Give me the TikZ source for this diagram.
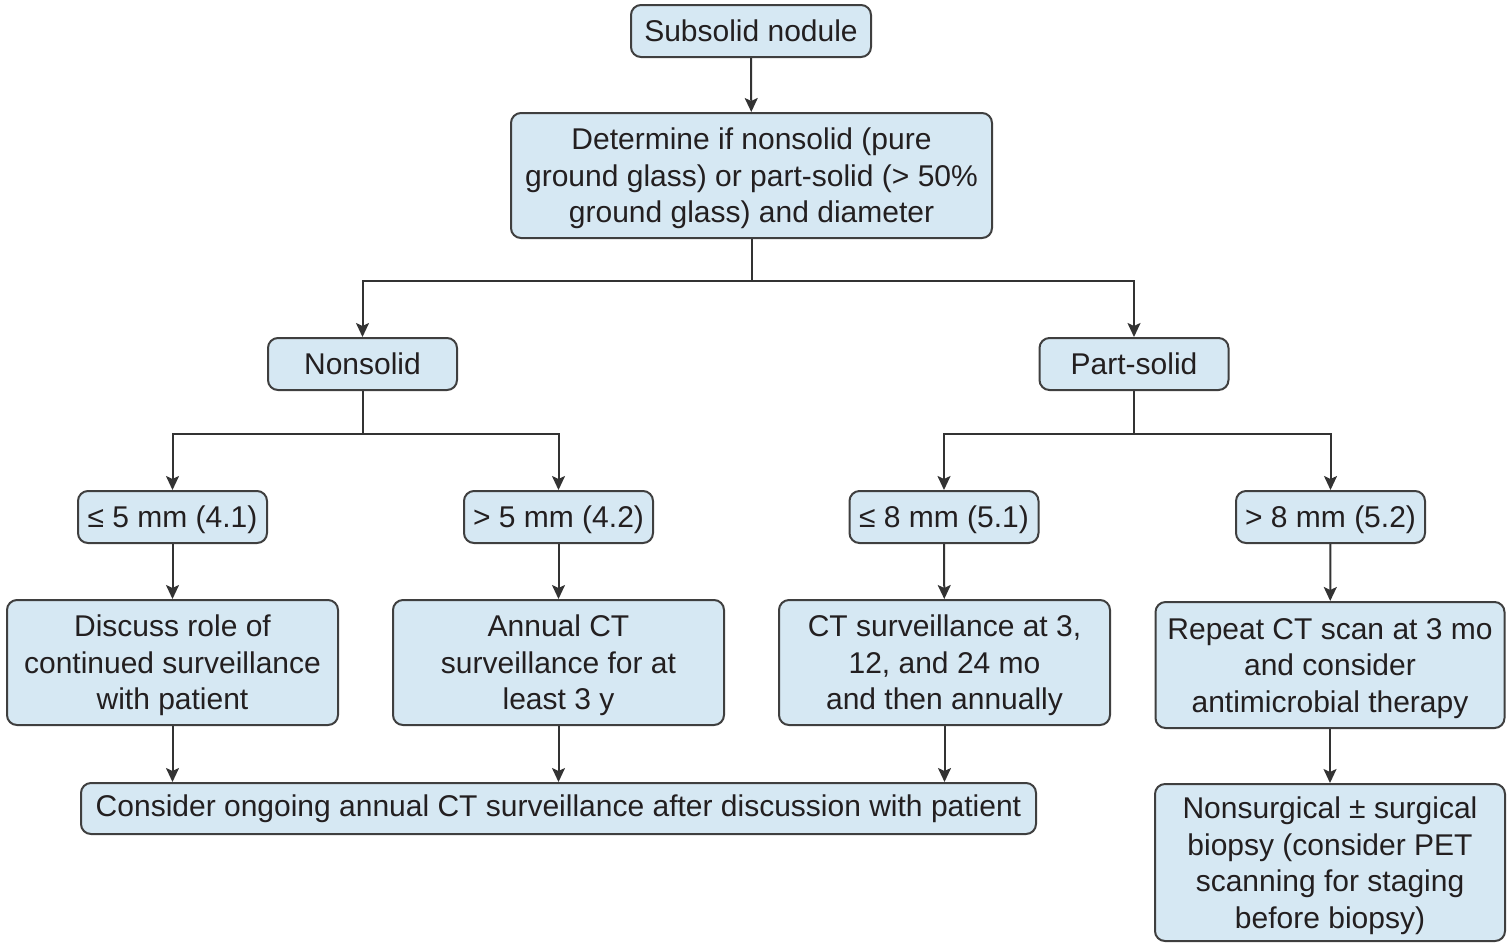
\documentclass[tikz,border=0pt]{standalone}
\usepackage{fontspec}
\setmainfont{Liberation Sans}
\usetikzlibrary{arrows.meta}
\definecolor{boxfill}{HTML}{D6E8F3}
\definecolor{boxline}{HTML}{3F3F3F}
\definecolor{wire}{HTML}{333333}
\definecolor{ink}{HTML}{231F20}
% extra headroom on the first line of a box
\newcommand\headroom{\rule{0pt}{13.9pt}}
\begin{document}
\begin{tikzpicture}[x=0.5pt,y=-0.5pt,
  box/.style={draw=boxline,line width=1pt,fill=boxfill,rounded corners=5pt,
    inner sep=0pt,align=center,text=ink,font=\fontsize{15}{18.25}\selectfont},
  arr/.style={draw=wire,line width=1pt,-{Stealth[length=7pt,width=6.5pt,inset=1.5pt]}},
  ln/.style={draw=wire,line width=1pt}]
\useasboundingbox (0,0) rectangle (1509,944);

% top of the tree
\node[box,minimum width=120pt,minimum height=26pt] (sub) at (751,31) {Subsolid nodule};
\node[box,minimum width=240.5pt,minimum height=62.5pt] (det) at (751.5,175.5)
  {\headroom Determine if nonsolid (pure\\ground glass) or part-solid (> 50\%\\ground glass) and diameter};

% first split
\node[box,minimum width=94.5pt,minimum height=26pt] (non) at (362.5,364) {Nonsolid};
\node[box,minimum width=94.5pt,minimum height=26pt] (part) at (1134,364) {Part-solid};

% size classes
\node[box,minimum width=94.5pt,minimum height=26pt] (a1) at (172.5,517) {\headroom ≤ 5 mm (4.1)};
\node[box,minimum width=94.5pt,minimum height=26pt] (a2) at (558.5,517) {\headroom > 5 mm (4.2)};
\node[box,minimum width=94.5pt,minimum height=26pt] (b1) at (944,517) {\headroom ≤ 8 mm (5.1)};
\node[box,minimum width=94.5pt,minimum height=26pt] (b2) at (1330.5,517) {\headroom > 8 mm (5.2)};

% management
\node[box,minimum width=165.5pt,minimum height=62.5pt] (m1) at (172.5,662.5)
  {\headroom Discuss role of\\continued surveillance\\with patient};
\node[box,minimum width=165.5pt,minimum height=62.5pt] (m2) at (558.5,662.5)
  {\headroom Annual CT\\surveillance for at\\least 3 y};
\node[box,minimum width=165.5pt,minimum height=62.5pt] (m3) at (944.5,662.5)
  {\headroom CT surveillance at 3,\\12, and 24 mo\\and then annually};
\node[box,minimum width=174.5pt,minimum height=63pt] (m4) at (1330,665)
  {\headroom Repeat CT scan at 3 mo\\and consider\\antimicrobial therapy};

% follow-up
\node[box,minimum width=477.5pt,minimum height=25.5pt] (cons) at (558.5,808.5)
  {Consider ongoing annual CT surveillance after discussion with patient};
\node[box,minimum width=175pt,minimum height=78.5pt] (bx) at (1330,862.5)
  {\headroom Nonsurgical ± surgical\\biopsy (consider PET\\scanning for staging\\before biopsy)};

% junction points
\coordinate (j0) at (751.5,281);
\coordinate (jn) at (362.5,434);
\coordinate (jp) at (1134,434);

% connectors
\draw[arr] (sub) -- (det);
\draw[ln] (det.south) -- (j0);
\draw[arr] (j0) -| (non);
\draw[arr] (j0) -| (part);
\draw[ln] (non.south) -- (jn);
\draw[arr] (jn) -| (a1);
\draw[arr] (jn) -| (a2);
\draw[ln] (part.south) -- (jp);
\draw[arr] (jp) -| (b1);
\draw[arr] (jp) -| (b2);
\draw[arr] (a1) -- (m1);
\draw[arr] (a2) -- (m2);
\draw[arr] (b1) -- (m3);
\draw[arr] (b2) -- (m4);
\draw[arr] (m1) -- (m1 |- cons.north);
\draw[arr] (m2) -- (m2 |- cons.north);
\draw[arr] (m3) -- (m3 |- cons.north);
\draw[arr] (m4) -- (bx);
\end{tikzpicture}
\end{document}
